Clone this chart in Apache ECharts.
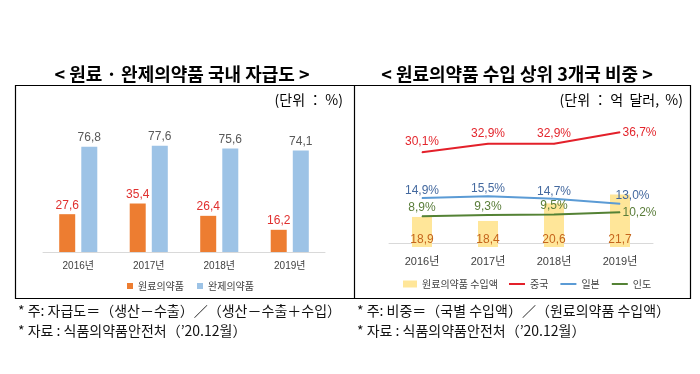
<!DOCTYPE html>
<html><head><meta charset="utf-8">
<script src="https://cdn.jsdelivr.net/npm/echarts@6/dist/echarts.min.js"></script>
<style>html,body{margin:0;padding:0;background:#fff}#c{width:700px;height:374px}</style>
</head><body><div id="c"></div>
<script>
const years = ['2016년', '2017년', '2018년', '2019년'];
const rawSelf = [27.6, 35.4, 26.4, 16.2];
const finishedSelf = [76.8, 77.6, 75.6, 74.1];
const importAmt = [18.9, 18.4, 20.6, 21.7];
const china = [30.1, 32.9, 32.9, 36.7];
const japan = [14.9, 15.5, 14.7, 13.0];
const india = [8.9, 9.3, 9.5, 10.2];

const KR = '"Noto Sans CJK KR", sans-serif';
const LAT = 'Arial, "Liberation Sans", "Noto Sans CJK KR", sans-serif';
const fmt = v => v.toFixed(1).replace('.', ',');
const fmtP = v => v.toFixed(1).replace('.', ',') + '%';

function lineSeries(name, values, color, labelColor, dist, lastLabel) {
  return {
    name: name, type: 'line', xAxisIndex: 1, yAxisIndex: 2,
    symbol: 'circle', symbolSize: 1, showSymbol: true,
    lineStyle: { color: color, width: 2 }, itemStyle: { color: color },
    emphasis: { disabled: true },
    label: { show: true, position: 'top', distance: dist, color: labelColor, fontSize: 12,
      fontFamily: LAT, formatter: p => fmtP(p.value) },
    data: values.map((v, i) => i === values.length - 1 ? { value: v, label: lastLabel } : v)
  };
}

const chart = echarts.init(document.getElementById('c'));
chart.setOption({
  animation: false,
  textStyle: { fontFamily: LAT },
  grid: [
    { left: 43, right: 375, top: 115, bottom: 122 },
    { left: 389, right: 47, top: 100, bottom: 127 }
  ],
  xAxis: [
    { gridIndex: 0, type: 'category', data: years,
      axisLine: { lineStyle: { color: '#d9d9d9' } }, axisTick: { show: false },
      axisLabel: { color: '#404040', fontSize: 10, margin: 9, fontFamily: LAT } },
    { gridIndex: 1, type: 'category', data: years,
      axisLine: { lineStyle: { color: '#d9d9d9' } }, axisTick: { show: false },
      axisLabel: { color: '#404040', fontSize: 11, margin: 9, fontFamily: LAT } }
  ],
  yAxis: [
    { gridIndex: 0, type: 'value', min: 0, max: 100, show: false },
    { gridIndex: 1, type: 'value', min: 15.15, max: 33.5, show: false },
    { gridIndex: 1, type: 'value', min: -1.3, max: 47.4, show: false }
  ],
  legend: [
    { data: ['원료의약품', '완제의약품'], left: 122, top: 276, icon: 'rect',
      itemWidth: 6, itemHeight: 6, itemGap: 13,
      textStyle: { fontSize: 10, color: '#404040', fontFamily: KR } },
    { data: ['원료의약품 수입액'], left: 398, top: 274, icon: 'rect',
      itemWidth: 14, itemHeight: 7, itemGap: 10,
      textStyle: { fontSize: 10, color: '#404040', fontFamily: KR } },
    { data: ['중국', '일본', '인도'], left: 504, top: 274, icon: 'rect',
      itemWidth: 16, itemHeight: 2, itemGap: 12,
      textStyle: { fontSize: 10, color: '#404040', fontFamily: KR } }
  ],
  series: [
    { name: '원료의약품', type: 'bar', xAxisIndex: 0, yAxisIndex: 0, data: rawSelf,
      barWidth: 16, barGap: '38%', itemStyle: { color: '#ED7D31' },
      label: { show: true, position: 'top', distance: 3, color: '#e0302f', fontSize: 12,
        formatter: p => fmt(p.value) } },
    { name: '완제의약품', type: 'bar', xAxisIndex: 0, yAxisIndex: 0, data: finishedSelf,
      barWidth: 16, itemStyle: { color: '#9DC3E6' },
      label: { show: true, position: 'top', distance: 3, color: '#595959', fontSize: 12,
        formatter: p => fmt(p.value) } },
    { name: '원료의약품 수입액', type: 'bar', xAxisIndex: 1, yAxisIndex: 1, data: importAmt,
      barWidth: 20, itemStyle: { color: '#FFE699' },
      label: { show: true, position: 'insideBottom', distance: 1, color: '#c5651c', fontSize: 12,
        formatter: p => fmt(p.value) } },
    lineSeries('중국', china, '#E3202A', '#e3262d', 4, { position: 'right', distance: 2 }),
    lineSeries('일본', japan, '#5B9BD5', '#44699f', 1, { position: 'right', offset: [-6, -8] }),
    lineSeries('인도', india, '#548235', '#5a7d3a', 2, { position: 'right', distance: 2 })
  ],
  graphic: [
    { type: 'text', x: 182, y: 74, style: { text: '< 원료 · 완제의약품 국내 자급도 >', fontFamily: KR,
        fontSize: 18, fontWeight: 'bold', fill: '#000', align: 'center', verticalAlign: 'middle' } },
    { type: 'text', x: 517, y: 74, style: { text: '< 원료의약품 수입 상위 3개국 비중 >', fontFamily: KR,
        fontSize: 18, fontWeight: 'bold', fill: '#000', align: 'center', verticalAlign: 'middle' } },
    { type: 'rect', shape: { x: 15.5, y: 85.5, width: 675, height: 213 },
      style: { fill: 'none', stroke: '#000', lineWidth: 1.2 } },
    { type: 'line', shape: { x1: 354.5, y1: 85.5, x2: 354.5, y2: 298.5 },
      style: { stroke: '#000', lineWidth: 1.2 } },
    { type: 'text', x: 343, y: 100, style: { text: '(단위 ： %)', fontFamily: KR, fontSize: 14,
        fill: '#000', align: 'right', verticalAlign: 'middle' } },
    { type: 'text', x: 683, y: 100, style: { text: '(단위 ： 억  달러,  %)', fontFamily: KR, fontSize: 14,
        fill: '#000', align: 'right', verticalAlign: 'middle' } },
    { type: 'text', x: 18, y: 311, style: { text: '* 주: 자급도＝（생산－수출）／（생산－수출＋수입）', fontFamily: KR,
        fontSize: 14, fill: '#111', align: 'left', verticalAlign: 'middle' } },
    { type: 'text', x: 18, y: 331, style: { text: '* 자료 : 식품의약품안전처（\u201920.12월）', fontFamily: KR,
        fontSize: 14, fill: '#111', align: 'left', verticalAlign: 'middle' } },
    { type: 'text', x: 357, y: 311, style: { text: '* 주: 비중＝（국별 수입액）／（원료의약품 수입액）', fontFamily: KR,
        fontSize: 14, fill: '#111', align: 'left', verticalAlign: 'middle' } },
    { type: 'text', x: 357, y: 331, style: { text: '* 자료 : 식품의약품안전처（\u201920.12월）', fontFamily: KR,
        fontSize: 14, fill: '#111', align: 'left', verticalAlign: 'middle' } }
  ]
});
</script></body></html>
